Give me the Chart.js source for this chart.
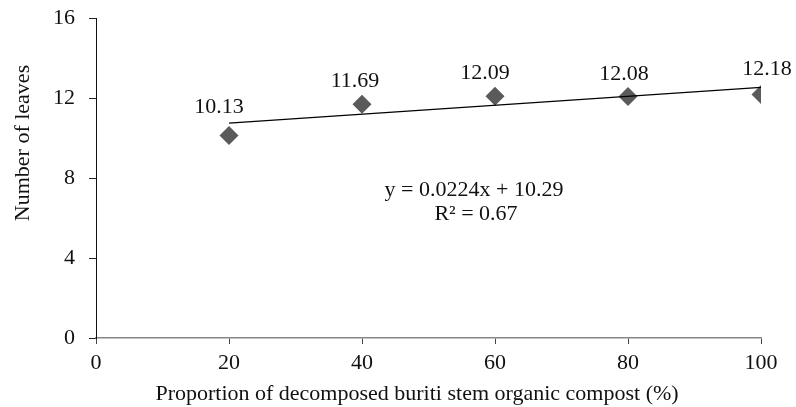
<!DOCTYPE html>
<html>
<head>
<meta charset="utf-8">
<script src="https://cdn.jsdelivr.net/npm/chart.js@4/dist/chart.umd.min.js"></script>
<style>
html,body{margin:0;padding:0;background:#fff;}
#wrap{width:796px;height:407px;position:relative;}
</style>
</head>
<body>
<div id="wrap"><canvas id="c" width="796" height="407"></canvas></div>
<script>
const proportions = [20, 40, 60, 80, 100];
const leaves = [10.13, 11.69, 12.09, 12.08, 12.18];
const trendX = [20, 100];
const trendY = [10.74, 12.53];
const equationLines = ['y = 0.0224x + 10.29', 'R\u00B2 = 0.67'];
const xTitle = 'Proportion of decomposed buriti stem organic compost (%)';
const yTitle = 'Number of leaves';

const FONT = '"Liberation Serif", "Times New Roman", serif';
// label placement offsets (px) relative to each marker, as placed in the original
const LABEL_DX = [-10, -7, -10, -4, 6];
const LABEL_DY = [-28, -23, -23, -22, -25];

const labelPlugin = {
  id: 'labels',
  afterDraw(chart) {
    const ctx = chart.ctx;
    const xs = chart.scales.x, ys = chart.scales.y;
    ctx.save();
    ctx.fillStyle = '#111';
    ctx.font = '22px ' + FONT;
    ctx.textAlign = 'center';
    ctx.textBaseline = 'middle';
    leaves.forEach((v, i) => {
      ctx.fillText(v.toFixed(2), xs.getPixelForValue(proportions[i]) + LABEL_DX[i], ys.getPixelForValue(v) + LABEL_DY[i]);
    });
    ctx.fillText(equationLines[0], 474, 190);
    ctx.fillText(equationLines[1], 476, 214);
    ctx.fillText(xTitle, 417, 394);
    ctx.translate(23, 143);
    ctx.rotate(-Math.PI / 2);
    ctx.fillText(yTitle, 0, 0);
    ctx.restore();
  }
};

new Chart(document.getElementById('c'), {
  type: 'scatter',
  data: {
    datasets: [
      {
        label: 'Leaves',
        data: proportions.map((x, i) => ({x: x, y: leaves[i]})),
        pointStyle: 'rectRot',
        pointRadius: 9.5,
        pointHoverRadius: 9.5,
        backgroundColor: '#5a5a5a',
        borderColor: '#5a5a5a',
        borderWidth: 0,
        order: 2
      },
      {
        label: 'Trend',
        type: 'line',
        data: trendX.map((x, i) => ({x: x, y: trendY[i]})),
        borderColor: '#000',
        borderWidth: 1.2,
        pointRadius: 0,
        fill: false,
        order: 1
      }
    ]
  },
  options: {
    responsive: false,
    animation: false,
    devicePixelRatio: 1,
    layout: {padding: {left: 0, right: 35, top: 18, bottom: 0}},
    plugins: {legend: {display: false}, tooltip: {enabled: false}},
    scales: {
      x: {
        type: 'linear',
        min: 0, max: 100,
        ticks: {stepSize: 20, color: '#111', font: {family: FONT, size: 22}, padding: 6, maxRotation: 0},
        grid: {drawOnChartArea: false, drawTicks: true, tickLength: 6, color: '#444'},
        border: {display: true, color: '#868686', width: 1.5},
        afterFit(s) { s.height = 69; s.paddingLeft = 0; s.paddingRight = 0; }
      },
      y: {
        type: 'linear',
        min: 0, max: 16,
        ticks: {stepSize: 4, color: '#111', font: {family: FONT, size: 22}, padding: 14},
        grid: {drawOnChartArea: false, drawTicks: true, tickLength: 7, color: '#222'},
        border: {display: true, color: '#111', width: 1},
        afterFit(s) { s.width = 96; s.paddingTop = 0; s.paddingBottom = 0; }
      }
    }
  },
  plugins: [labelPlugin]
});
</script>
</body>
</html>
